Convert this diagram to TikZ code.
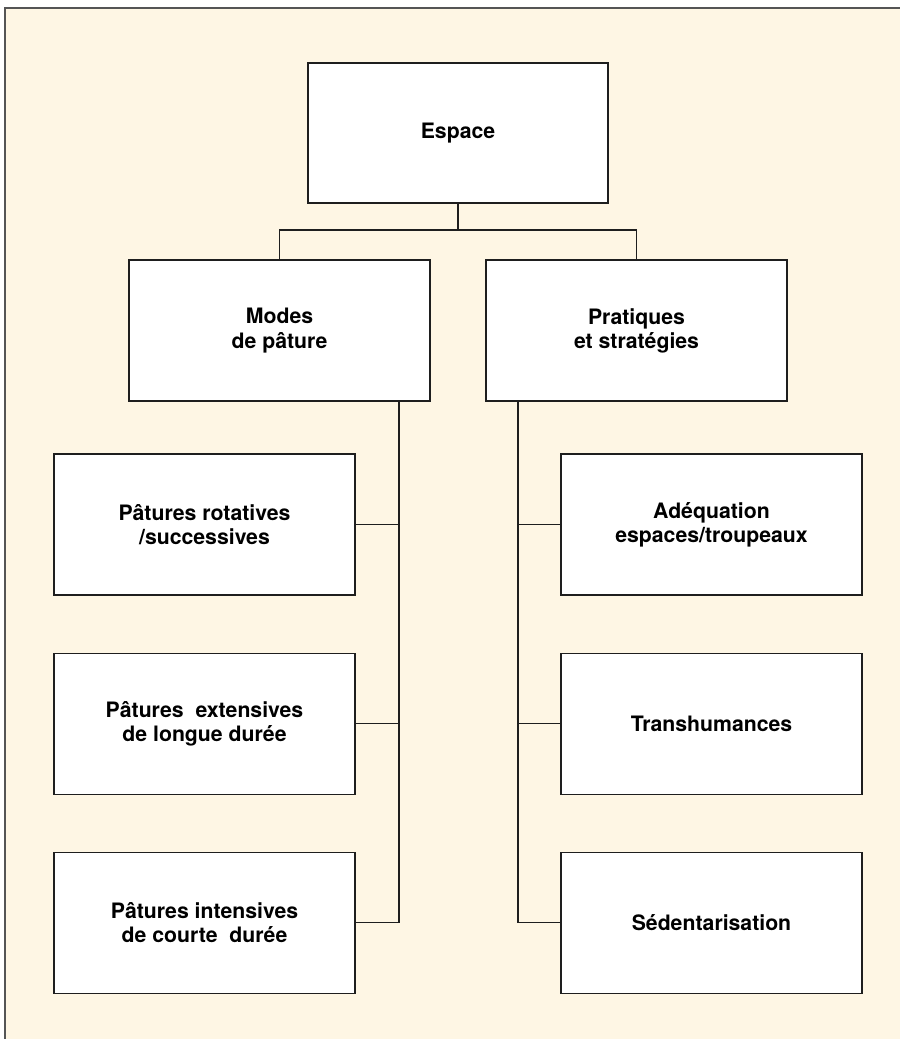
\documentclass[tikz,border=0pt]{standalone}
\usepackage{fontspec}
\setmainfont{TeX Gyre Heros}
\usepackage{tikz}
\usetikzlibrary{positioning,calc}
\definecolor{cream}{HTML}{FEF6E4}
\definecolor{ink}{HTML}{1E1E1E}
\definecolor{framegrey}{HTML}{555555}
\tikzset{
  topbox/.style={rectangle,draw=ink,line width=0.8pt,fill=white,align=center,minimum width=7.5cm,minimum height=3.5cm,font=\bfseries\fontsize{15.1}{17.2}\selectfont},
  midbox/.style={topbox,minimum width=7.525cm,minimum height=3.525cm},
  leafbox/.style={topbox,minimum width=7.525cm,minimum height=3.525cm},
  link/.style={draw=ink,line width=0.8pt}
}

\begin{document}
\begin{tikzpicture}[x=0.025cm,y=-0.025cm,node distance=1.425cm and 1.4cm]
  \useasboundingbox (0,0) rectangle (900,1039);
  \fill[cream] (5,8) rectangle (900,1039);
  \draw[framegrey,line width=0.8pt] (5,1039) -- (5,8) -- (900,8);

  \node[topbox] (espace) at (458,133) {Espace};
  \node[midbox] (modes) at (279.5,330.5) {Modes\\de pâture};
  \node[midbox] (prat) at (636.5,330.5) {Pratiques\\et stratégies};

  \node[leafbox] (rot) at (204.5,524.5) {Pâtures rotatives\\/successives};
  \node[leafbox, below=of rot] (ext) {Pâtures~ extensives\\de longue durée};
  \node[leafbox, below=of ext] (int) {Pâtures intensives\\de courte~ durée};
  \node[leafbox] (adeq) at (711.5,524.5) {Adéquation\\espaces/troupeaux};
  \node[leafbox, below=of adeq] (trans) {Transhumances};
  \node[leafbox, below=of trans] (sed) {Sédentarisation};

  \coordinate (split) at (458,230);
  \coordinate (lspine) at (399,401);
  \coordinate (rspine) at (518,401);

  % tree from the top box
  \draw[link] (espace.south) -- (split);
  \draw[link] (split) -| (modes.north);
  \draw[link] (split) -| (prat.north);

  % left column
  \draw[link] (lspine) |- (int.east);
  \draw[link] (rot.east) -- (rot.east -| lspine);
  \draw[link] (ext.east) -- (ext.east -| lspine);

  % right column
  \draw[link] (rspine) |- (sed.west);
  \draw[link] (adeq.west) -- (adeq.west -| rspine);
  \draw[link] (trans.west) -- (trans.west -| rspine);
\end{tikzpicture}
\end{document}
